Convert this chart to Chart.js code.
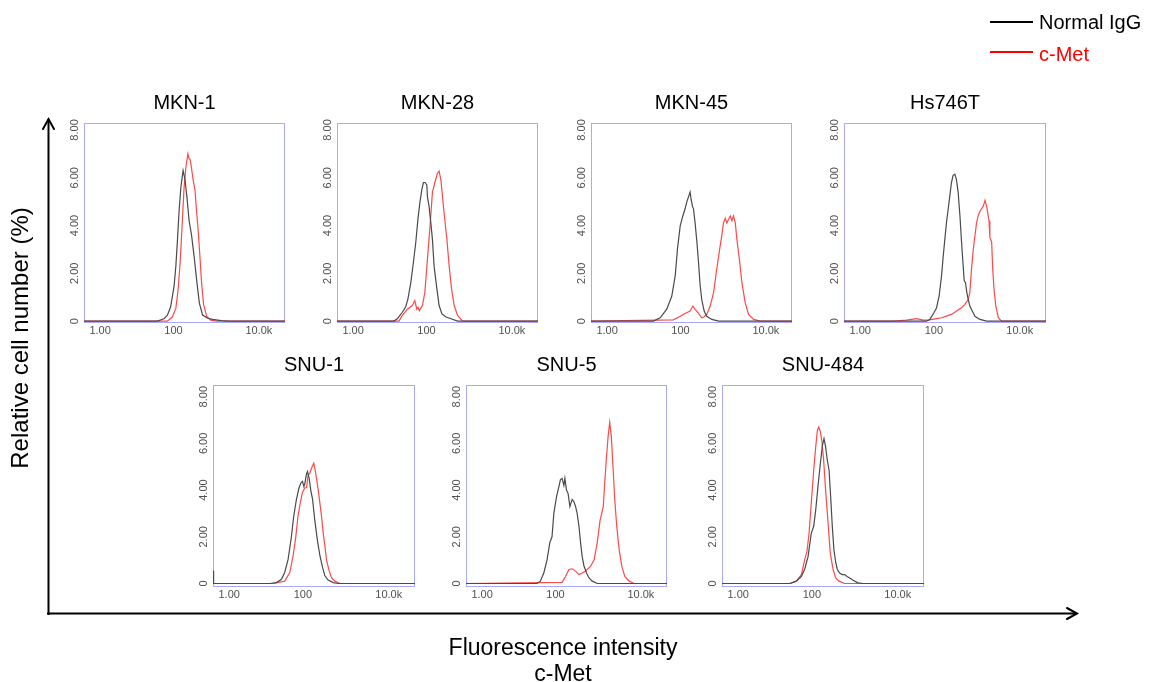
<!DOCTYPE html>
<html><head><meta charset="utf-8">
<script src="https://cdn.jsdelivr.net/npm/chart.js@4.4.1/dist/chart.umd.min.js"></script>
<style>
html,body{margin:0;padding:0;background:#fff;}
body{width:1150px;height:682px;position:relative;overflow:hidden;font-family:"Liberation Sans",Arial,sans-serif;}
.panel{position:absolute;}
.txt{position:absolute;white-space:nowrap;color:#000;line-height:1;}
</style></head><body>
<script>
// ---------- data (x = acquisition channel 0..1000 on the display axis, y = % of cells) ----------
const panelTitles = ["MKN-1","MKN-28","MKN-45","Hs746T","SNU-1","SNU-5","SNU-484"];
const seriesNames = ["Normal IgG","c-Met"];
const xTickValues = [80, 445, 870];
const xTickLabels = ["1.00","100","10.0k"];
const yTickValues = [0, 2, 4, 6, 8];
const yTickLabels = ["0","2.00","4.00","6.00","8.00"];

const mkn1IgG  = [[0,0],[365,0],[398,0.1],[415,0.25],[431,0.6],[448,1.45],[457,2.3],[465,3.4],[473,4.6],[482,5.6],[493,6.3],[502,5.95],[512,5.2],[523,4.2],[535,3.6],[548,2.7],[562,1.6],[574,0.75],[590,0.25],[615,0.12],[640,0.07],[682,0.02],[720,0],[1000,0]];
const mkn1Met  = [[0,0],[415,0],[440,0.18],[457,0.53],[468,1.3],[478,2.4],[485,3.5],[492,4.65],[498,5.6],[507,6.45],[517,7.0],[523,6.8],[528,6.77],[535,6.4],[543,5.9],[552,5.5],[560,4.6],[568,3.8],[576,2.8],[585,1.6],[595,0.7],[610,0.2],[630,0.04],[660,0],[1000,0]];
const mkn28IgG = [[0,0],[283,0],[300,0.1],[325,0.37],[342,0.6],[353,0.93],[367,1.6],[380,2.45],[392,3.3],[403,4.3],[413,5.0],[422,5.5],[430,5.8],[438,5.8],[447,5.7],[450,5.2],[458,4.8],[467,4.1],[475,3.4],[483,2.3],[497,1.35],[508,0.65],[522,0.3],[542,0.17],[567,0.1],[600,0],[1000,0]];
const mkn28Met = [[0,0],[308,0],[325,0.24],[350,0.5],[375,0.65],[387,0.86],[397,0.5],[403,0.58],[410,0.44],[425,0.65],[437,1.2],[450,2.6],[463,4.0],[475,5.4],[487,5.8],[500,6.2],[508,6.28],[517,5.9],[525,5.2],[533,4.5],[547,3.4],[558,2.3],[570,1.35],[583,0.65],[600,0.24],[625,0],[1000,0]];
const mkn45IgG = [[0,0],[311,0],[344,0.14],[377,0.5],[402,1.05],[419,1.9],[430,3.0],[444,4.0],[457,4.4],[468,4.7],[477,5.0],[485,5.2],[493,5.4],[498,5.1],[505,4.8],[510,4.7],[518,4.1],[527,3.3],[535,2.45],[543,1.5],[551,0.9],[563,0.42],[576,0.2],[601,0.07],[635,0],[1000,0]];
const mkn45Met = [[0,0],[410,0.05],[444,0.2],[468,0.32],[493,0.42],[507,0.63],[518,0.49],[535,0.32],[551,0.14],[563,0.18],[576,0.28],[593,0.63],[610,1.2],[626,2.2],[640,3.0],[651,3.6],[659,4.1],[668,4.3],[676,4.1],[684,4.25],[693,4.4],[701,4.2],[709,4.4],[718,4.1],[726,3.4],[738,2.6],[751,1.6],[767,0.77],[784,0.28],[809,0.07],[842,0],[1000,0]];
const hs746IgG = [[0,0],[408,0],[425,0.07],[445,0.35],[458,0.55],[471,1.05],[483,1.9],[491,2.7],[499,3.4],[507,4.1],[516,4.7],[524,5.25],[532,5.8],[540,6.1],[549,6.15],[557,5.9],[565,5.4],[574,4.4],[582,3.3],[590,2.3],[595,1.7],[602,1.6],[607,1.25],[615,0.9],[623,0.63],[635,0.42],[648,0.2],[673,0.07],[706,0],[1000,0]];
const hs746Met = [[0,0],[243,0],[309,0.04],[359,0.1],[392,0.04],[425,0.05],[458,0.1],[483,0.14],[507,0.21],[532,0.28],[557,0.42],[582,0.56],[598,0.7],[615,0.9],[623,1.2],[631,2.15],[640,3.0],[648,3.55],[656,4.1],[664,4.4],[673,4.6],[681,4.7],[689,4.8],[698,5.05],[706,4.8],[718,4.2],[722,3.5],[731,3.3],[736,2.2],[743,1.3],[752,0.6],[764,0.14],[780,0],[1000,0]];
const snu1IgG  = [[0,0.55],[3,0],[281,0],[314,0.04],[339,0.18],[355,0.47],[372,1.04],[388,2.0],[400,2.9],[413,3.6],[426,4.1],[435,4.3],[443,4.37],[450,4.15],[455,4.3],[463,4.7],[468,4.8],[476,4.5],[484,4.0],[493,3.6],[504,2.7],[516,1.9],[529,1.2],[542,0.7],[554,0.33],[570,0.15],[595,0.04],[620,0],[1000,0]];
const snu1Met  = [[0,0],[298,0],[355,0.1],[380,0.47],[397,1.2],[410,2.0],[421,2.9],[433,3.5],[443,3.9],[455,4.1],[463,4.1],[471,4.65],[479,4.7],[488,4.95],[499,5.15],[509,4.7],[521,4.0],[529,3.45],[537,2.9],[545,2.2],[554,1.6],[562,1.0],[575,0.54],[587,0.25],[603,0.1],[628,0],[1000,0]];
const snu5IgG  = [[0,0],[353,0],[370,0.1],[387,0.45],[403,1.0],[417,1.75],[428,2.0],[437,3.0],[450,3.7],[462,4.15],[470,4.45],[478,4.5],[487,4.2],[492,4.5],[500,4.0],[508,3.85],[517,3.3],[528,3.6],[537,3.5],[545,3.3],[553,3.0],[562,2.45],[570,1.75],[578,1.15],[587,0.75],[600,0.45],[612,0.24],[628,0.1],[653,0],[1000,0]];
const snu5Met  = [[0,0],[478,0.05],[495,0.3],[512,0.6],[528,0.63],[545,0.53],[562,0.38],[578,0.45],[595,0.53],[620,0.74],[637,1.0],[653,1.75],[667,2.7],[678,3.1],[683,3.3],[690,4.3],[698,5.3],[707,6.3],[715,6.9],[723,6.3],[732,4.9],[740,3.6],[750,2.45],[762,1.45],[775,0.74],[790,0.3],[812,0.1],[837,0],[1000,0]];
const snu484IgG= [[0,0],[335,0],[368,0.1],[393,0.3],[409,0.6],[426,1.15],[442,2.15],[454,2.45],[464,3.15],[475,4.15],[487,5.15],[497,5.9],[505,6.2],[513,5.85],[521,5.3],[530,4.85],[538,3.7],[546,2.45],[554,1.45],[563,0.9],[571,0.6],[582,0.45],[596,0.38],[607,0.38],[619,0.3],[632,0.24],[649,0.14],[673,0.03],[698,0],[1000,0]];
const snu484Met= [[0,0],[340,0],[368,0.1],[393,0.38],[409,1.0],[421,1.4],[431,2.15],[442,3.45],[454,4.85],[464,5.85],[472,6.55],[479,6.7],[487,6.5],[495,6.05],[503,5.3],[513,4.0],[525,2.6],[536,1.3],[550,0.6],[563,0.24],[579,0.1],[607,0],[1000,0]];

const iggSeries = [mkn1IgG, mkn28IgG, mkn45IgG, hs746IgG, snu1IgG, snu5IgG, snu484IgG];
const metSeries = [mkn1Met, mkn28Met, mkn45Met, hs746Met, snu1Met, snu5Met, snu484Met];

// ---------- layout (plot-box positions on the page) ----------
const boxes = [
  {x:84, y:123, w:201, h:200, ymin:-0.08, ymax:8.29},
  {x:337,y:123, w:201, h:200, ymin:-0.08, ymax:8.29},
  {x:591,y:123, w:201, h:200, ymin:-0.08, ymax:8.29},
  {x:844,y:123, w:202, h:200, ymin:-0.08, ymax:8.29},
  {x:213,y:385, w:202, h:202, ymin:-0.15, ymax:8.5},
  {x:466,y:385, w:201, h:202, ymin:-0.15, ymax:8.5},
  {x:722,y:385, w:202, h:202, ymin:-0.15, ymax:8.5}
];
const FONT = '"Liberation Sans", Arial, sans-serif';

const framePlugin = {
  id:'frame',
  beforeDatasetsDraw(chart){
    const a = chart.chartArea, c = chart.ctx;
    c.save(); c.strokeStyle = '#a8a8ff'; c.lineWidth = 1;
    c.strokeRect(Math.round(a.left)+0.5, Math.round(a.top)+0.5, Math.round(a.right-a.left)-1, Math.round(a.bottom-a.top)-1);
    c.restore();
  }
};

function toXY(arr){ return arr.map(p => ({x:p[0], y:p[1]})); }

function makePanel(i){
  const b = boxes[i];
  const L=34, T=35, R=8, B=22;
  const W = b.w+L+R, H = b.h+T+B;
  const wrap = document.createElement('div');
  wrap.className = 'panel';
  wrap.style.left = (b.x-L)+'px'; wrap.style.top = (b.y-T)+'px';
  wrap.style.width = W+'px'; wrap.style.height = H+'px';
  const cv = document.createElement('canvas');
  cv.width = W; cv.height = H; cv.style.width = W+'px'; cv.style.height = H+'px';
  wrap.appendChild(cv); document.body.appendChild(wrap);
  new Chart(cv, {
    type:'line',
    data:{datasets:[
      {label:seriesNames[0], data:toXY(iggSeries[i]), borderColor:'#4a4a4a', borderWidth:1.2, pointRadius:0, tension:0, fill:false},
      {label:seriesNames[1], data:toXY(metSeries[i]), borderColor:'#ff4848', borderWidth:1.2, pointRadius:0, tension:0, fill:false}
    ]},
    options:{
      responsive:false, devicePixelRatio:1, animation:false, events:[],
      layout:{padding:{left:0,right:R,top:0,bottom:0}},
      plugins:{
        legend:{display:false}, tooltip:{enabled:false},
        title:{display:true, text:panelTitles[i], fullSize:false, color:'#000',
               font:{family:FONT, size:20, weight:'normal', lineHeight:1.2}, padding:{top:3.5,bottom:7.5}}
      },
      scales:{
        x:{type:'linear', min:0, max:1000,
           afterBuildTicks:s=>{ s.ticks = xTickValues.map(v=>({value:v})); },
           afterFit:s=>{ s.height = B; },
           ticks:{autoSkip:false, maxRotation:0, minRotation:0, padding:1, color:'#505050',
                  font:{family:FONT, size:11},
                  callback:(v)=>xTickLabels[xTickValues.indexOf(v)]},
           grid:{display:false, drawTicks:false}, border:{display:false}},
        y:{type:'linear', min:b.ymin, max:b.ymax,
           afterBuildTicks:s=>{ s.ticks = yTickValues.map(v=>({value:v})); },
           afterFit:s=>{ s.width = L; },
           ticks:{autoSkip:false, minRotation:90, maxRotation:90, crossAlign:'center', padding:-2, color:'#505050',
                  font:{family:FONT, size:11},
                  callback:(v)=>yTickLabels[yTickValues.indexOf(v)]},
           grid:{display:false, drawTicks:false}, border:{display:false}}
      }
    },
    plugins:[framePlugin]
  });
}
for (let i=0;i<panelTitles.length;i++) makePanel(i);
</script>

<svg width="1150" height="682" style="position:absolute;left:0;top:0;pointer-events:none">
  <g stroke="#000" stroke-width="2" fill="none" stroke-linecap="square">
    <path d="M48.5 614 V120"/>
    <path d="M43 129 L48.5 119 L54 129" stroke-linecap="round" stroke-linejoin="miter"/>
    <path d="M48 613.5 H1076"/>
    <path d="M1067 608 L1077 613.5 L1067 619" stroke-linecap="round"/>
  </g>
  <line x1="990" y1="22" x2="1033" y2="22" stroke="#000" stroke-width="2"/>
  <line x1="990" y1="52" x2="1033" y2="52" stroke="#ff0000" stroke-width="2"/>
</svg>
<div class="txt" style="left:1039px;top:12px;font-size:20px;">Normal IgG</div>
<div class="txt" style="left:1039px;top:44px;font-size:20px;color:#ff0000;">c-Met</div>
<div class="txt" style="left:20px;top:338px;font-size:24px;transform:translate(-50%,-50%) rotate(-90deg);">Relative cell number (%)</div>
<div class="txt" style="left:563px;top:636px;font-size:23px;transform:translateX(-50%);">Fluorescence intensity</div>
<div class="txt" style="left:563px;top:662px;font-size:23px;transform:translateX(-50%);">c-Met</div>
</body></html>
